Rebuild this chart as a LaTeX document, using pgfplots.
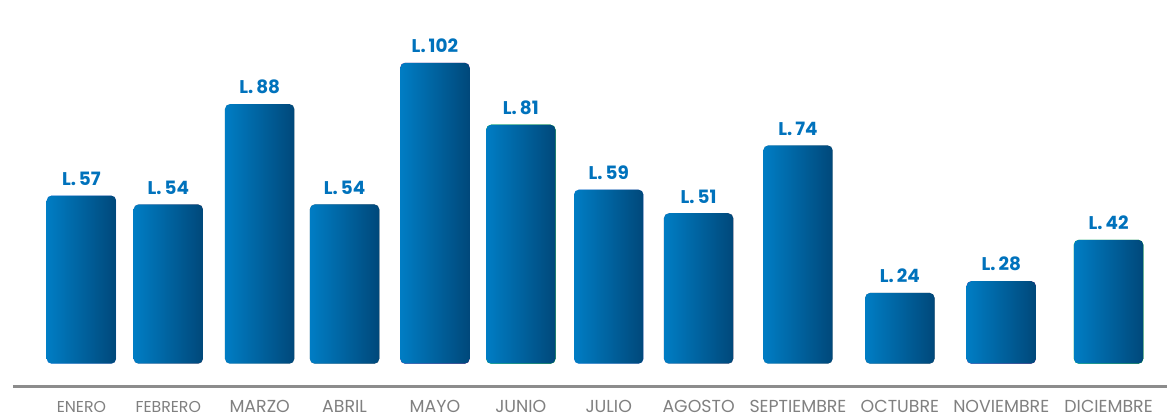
\documentclass[border=0pt]{standalone}
\usepackage{fontspec}
\setmainfont{Poppins}
\usepackage{pgfplots}
\pgfplotsset{compat=1.18}
\definecolor{barL}{HTML}{007DC4}
\definecolor{barR}{HTML}{00487A}
\definecolor{lbl}{HTML}{0072BC}
\definecolor{base}{HTML}{8C8C8C}
\definecolor{mon}{HTML}{808080}
\begin{document}
\begin{tikzpicture}
\begin{axis}[
  scale only axis,
  width=584pt, height=207.5pt,
  xmin=0, xmax=1168, ymin=-17.26, ymax=123.2,
  axis line style={draw=none},
  clip=false,
  xtick={81.5,168.5,260,345,435.5,521.5,609.5,699.5,799,901,1002.5,1110},
  xticklabels={{\fontsize{7.9}{8}\selectfont ENERO},{\fontsize{7.9}{8}\selectfont FEBRERO},MARZO,ABRIL,MAYO,JUNIO,JULIO,AGOSTO,SEPTIEMBRE,OCTUBRE,NOVIEMBRE,DICIEMBRE},
  xticklabel style={anchor=center, yshift=4pt, font=\fontsize{8.7}{9}\selectfont, text=mon},
  ytick=\empty,
  major tick length=0pt,
  ybar, bar width=34.75pt, bar shift=0pt,
  /pgf/number format/assume math mode=true,
  nodes near coords={L.\,\pgfmathprintnumber\pgfplotspointmeta},
  nodes near coords style={font=\bfseries\fontsize{9.2}{10}\selectfont, text=lbl, anchor=south, yshift=1.5pt},
  every axis plot/.append style={draw=none, left color=barL, right color=barR, rounded corners=2.5pt},
]
\path (rel axis cs:0,0) rectangle (rel axis cs:1,1);
\draw[base, line width=1.5pt] (axis cs:13,-7.78) -- (axis cs:1168,-7.78);
\addplot coordinates {(81.5,57)};
\addplot coordinates {(168.5,54)};
\addplot coordinates {(260,88)};
\addplot coordinates {(345,54)};
\addplot coordinates {(435.5,102)};
\addplot coordinates {(521.5,81)};
\addplot coordinates {(609.5,59)};
\addplot coordinates {(699.5,51)};
\addplot coordinates {(799,74)};
\addplot coordinates {(901,24)};
\addplot coordinates {(1002.5,28)};
\addplot coordinates {(1110,42)};
\end{axis}
\end{tikzpicture}
\end{document}
